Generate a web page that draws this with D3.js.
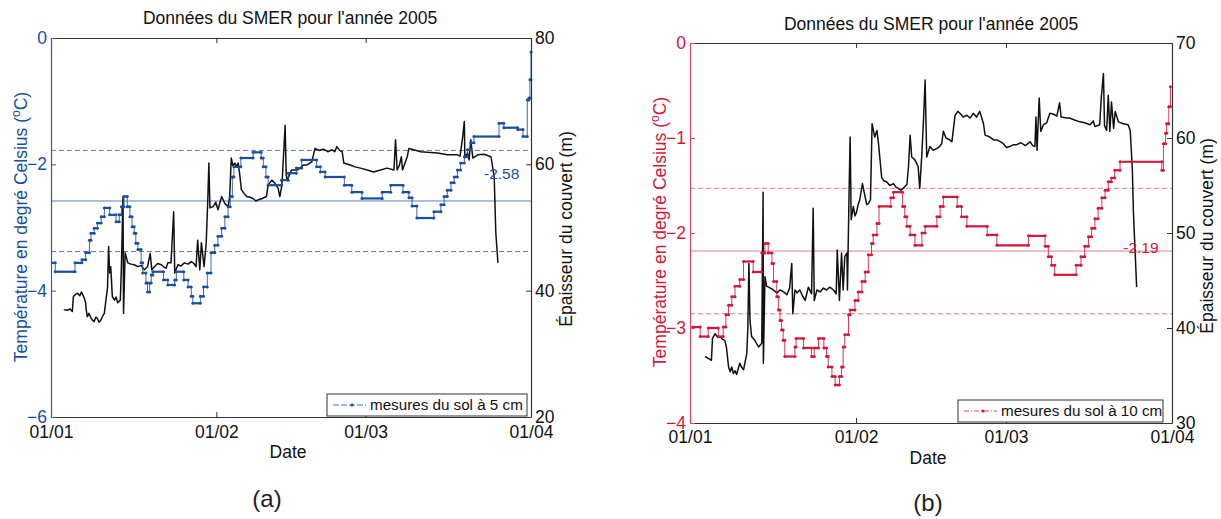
<!DOCTYPE html>
<html>
<head>
<meta charset="utf-8">
<script src="https://cdn.jsdelivr.net/npm/d3@7"></script>
<style>
  body { margin: 0; background: #fff; }
  text { font-family: "Liberation Sans", Arial, Helvetica, sans-serif; }
</style>
</head>
<body>
<svg id="fig" width="1221" height="519"></svg>
<script>
// ---- data: days counted from 1 January 2005 ----
const dateTicks = ["01/01", "01/02", "01/03", "01/04"];
const tempTicksA = [0, -2, -4, -6];
const snowTicksA = [20, 40, 60, 80];
const tempTicksB = [0, -1, -2, -3, -4];
const snowTicksB = [30, 40, 50, 60, 70];

// soil temperature at 5 cm, [day, °C] (hourly readings, step changes)
const soilTempA = [
  [0, -3.56], [0.8, -3.70], [4.5, -3.56], [5.8, -3.51], [6.5, -3.40], [7.2, -3.20], [7.5, -3.09],
  [8.1, -3.01], [8.7, -2.93], [9.4, -2.83], [10.0, -2.69], [11.0, -2.80], [12.2, -2.91], [12.8, -2.80],
  [13.2, -2.67], [13.7, -2.51], [14.3, -2.67], [14.8, -2.83], [15.2, -2.99], [15.6, -3.09], [15.9, -3.25],
  [16.3, -3.35], [16.9, -3.56], [17.2, -3.72], [17.8, -3.88], [18.1, -4.02], [18.5, -3.88], [18.8, -3.75],
  [19.1, -3.70], [21.1, -3.83], [21.9, -3.91], [23.2, -3.83], [23.5, -3.70], [24.9, -3.83], [25.7, -3.94],
  [26.3, -4.09], [26.6, -4.20], [28.0, -4.09], [28.6, -3.94], [29.3, -3.72], [30.0, -3.40], [30.7, -3.28],
  [31.3, -3.14], [32.0, -3.01], [32.6, -2.83], [33.2, -2.67], [33.6, -2.51], [34.0, -2.20], [34.3, -2.04],
  [35.6, -1.90], [37.9, -1.81], [39.4, -1.90], [39.8, -2.04], [40.3, -2.20], [40.7, -2.33], [43.2, -2.25],
  [44.5, -2.14], [46.0, -2.06], [47.0, -1.93], [49.8, -2.04], [50.5, -2.12], [51.4, -2.20], [55.0, -2.33],
  [56.4, -2.44], [58.3, -2.54], [62.1, -2.44], [63.7, -2.33], [66.0, -2.44], [67.1, -2.53], [67.7, -2.66],
  [68.6, -2.85], [71.8, -2.75], [73.1, -2.64], [73.7, -2.51], [74.3, -2.41], [75.0, -2.29], [75.6, -2.20],
  [76.2, -2.09], [76.8, -1.98], [77.5, -1.88], [78.1, -1.77], [78.7, -1.66], [79.3, -1.56], [84.0, -1.35],
  [84.9, -1.42], [87.5, -1.45], [88.5, -1.56], [89.3, -0.98], [89.6, -0.95], [89.8, -0.66], [90.0, -0.22]
];

// snow cover thickness, [day, m]
const snowDepthA = [
  [2.4, 37.0], [3.0, 36.9], [3.6, 37.1], [4.0, 36.7], [4.2, 39.1], [4.6, 39.4], [5.0, 39.6], [5.4, 39.2],
  [5.7, 39.8], [6.2, 38.9], [6.5, 38.1], [6.6, 37.0], [6.8, 35.9], [7.1, 36.4], [7.5, 35.7], [7.8, 35.3],
  [8.1, 35.1], [8.4, 35.8], [8.7, 35.6], [9.0, 35.0], [9.4, 35.4], [9.7, 36.0], [10.0, 36.4], [10.3, 38.5],
  [10.6, 40.5], [10.8, 47.0], [11.0, 42.8], [11.2, 43.8], [11.5, 39.1], [11.9, 38.5], [12.2, 39.0],
  [12.5, 38.1], [13.0, 38.5], [13.2, 43.8], [13.5, 54.9], [13.6, 36.4], [13.9, 46.0], [14.4, 44.4],
  [15.0, 44.2], [15.6, 44.1], [16.3, 43.8], [16.9, 44.0], [17.5, 43.3], [18.1, 43.8], [18.6, 45.9],
  [18.9, 43.3], [19.4, 43.8], [20.0, 44.3], [20.7, 44.1], [21.2, 43.7], [21.6, 43.6], [21.9, 44.4],
  [22.5, 44.4], [23.0, 52.5], [23.2, 42.8], [23.8, 44.1], [24.4, 43.9], [25.0, 44.4], [25.7, 44.2],
  [26.3, 44.6], [26.8, 44.3], [27.2, 43.8], [27.5, 48.0], [27.9, 43.3], [28.2, 47.6], [28.7, 43.8],
  [29.1, 47.5], [29.4, 54.4], [29.6, 60.2], [29.8, 53.1], [30.4, 53.3], [30.9, 54.0], [31.3, 52.8],
  [32.0, 54.9], [32.6, 53.8], [33.2, 53.3], [33.5, 54.9], [33.8, 61.0], [34.1, 59.8], [34.5, 60.2],
  [34.8, 59.6], [35.1, 60.2], [35.4, 58.3], [35.7, 56.0], [36.2, 55.4], [36.7, 54.9], [37.3, 54.8],
  [37.9, 54.6], [38.4, 54.2], [38.9, 54.4], [39.6, 54.6], [40.4, 54.9], [40.7, 56.7], [41.4, 57.5],
  [42.0, 57.0], [42.6, 56.2], [42.9, 54.9], [43.3, 56.7], [43.9, 66.2], [44.1, 58.3], [44.3, 57.5],
  [45.1, 59.1], [46.1, 59.1], [46.7, 59.4], [47.3, 59.9], [48.0, 59.9], [48.9, 60.4], [49.5, 62.5],
  [50.3, 62.2], [51.1, 62.4], [51.9, 62.0], [52.7, 62.3], [53.2, 62.0], [53.6, 62.8], [54.1, 62.2],
  [54.6, 62.0], [54.9, 60.2], [56.1, 59.9], [57.0, 59.6], [58.0, 59.4], [59.3, 59.1], [60.5, 58.8],
  [61.8, 59.1], [63.0, 59.4], [64.3, 59.1], [64.6, 63.9], [64.9, 59.1], [65.3, 59.8], [65.7, 61.2],
  [65.9, 59.1], [66.8, 61.2], [67.1, 62.5], [68.0, 62.3], [69.3, 62.0], [70.6, 61.9], [72.5, 61.8],
  [74.3, 61.5], [76.2, 61.5], [76.7, 61.3], [77.2, 64.4], [77.5, 66.8], [77.6, 61.0], [78.1, 61.8],
  [78.4, 60.7], [78.7, 63.9], [79.1, 61.0], [80.0, 61.5], [81.2, 61.6], [82.5, 61.2], [83.1, 58.0],
  [83.4, 49.2], [83.8, 44.4]
];

// soil temperature at 10 cm, [day, °C]
const soilTempB = [
  [0.5, -2.99], [1.9, -3.09], [3.4, -3.00], [5.3, -3.09], [6.2, -2.99], [6.7, -2.86], [7.2, -2.76],
  [7.8, -2.67], [8.4, -2.56], [9.3, -2.49], [10.0, -2.30], [11.8, -2.41], [13.4, -2.21], [14.0, -2.11],
  [14.6, -2.21], [15.3, -2.32], [15.6, -2.51], [16.2, -2.67], [16.5, -2.81], [16.8, -2.92], [17.1, -3.02],
  [17.4, -3.13], [17.7, -3.30], [19.6, -3.20], [19.8, -3.11], [21.2, -3.21], [22.7, -3.30], [23.2, -3.21],
  [24.0, -3.11], [25.0, -3.21], [25.5, -3.30], [25.8, -3.41], [26.5, -3.51], [27.1, -3.60], [27.9, -3.51],
  [28.3, -3.41], [28.6, -3.20], [28.9, -3.07], [29.6, -2.86], [29.9, -2.81], [30.8, -2.71], [31.4, -2.62],
  [32.1, -2.51], [32.7, -2.41], [33.3, -2.23], [33.9, -2.11], [34.2, -2.02], [34.9, -1.90], [35.3, -1.72],
  [37.5, -1.63], [38.0, -1.57], [39.7, -1.72], [40.1, -1.83], [40.5, -1.93], [41.1, -2.02], [42.0, -2.13],
  [43.3, -2.00], [43.9, -1.93], [46.1, -1.83], [46.7, -1.72], [47.3, -1.62], [49.9, -1.72], [50.7, -1.83],
  [51.7, -1.93], [55.5, -2.02], [57.3, -2.13], [63.2, -2.03], [66.3, -2.14], [66.9, -2.25], [67.5, -2.34],
  [68.1, -2.44], [72.1, -2.34], [73.0, -2.25], [73.7, -2.14], [74.4, -2.04], [75.0, -1.95], [75.6, -1.85],
  [76.2, -1.74], [76.9, -1.63], [77.5, -1.55], [78.1, -1.46], [78.7, -1.42], [79.3, -1.34], [80.3, -1.25],
  [88.1, -1.34], [88.4, -1.06], [88.8, -0.95], [89.0, -0.85], [89.4, -0.67], [89.7, -0.46]
];

const snowDepthB = [
  [2.8, 37.0], [3.4, 36.8], [4.0, 36.6], [4.2, 38.9], [4.7, 39.4], [5.2, 39.0], [5.6, 39.1], [6.1, 38.8],
  [6.5, 38.7], [6.8, 38.0], [7.2, 35.9], [7.5, 35.4], [7.8, 35.9], [8.1, 35.2], [8.4, 35.5], [8.7, 35.1],
  [9.3, 36.3], [9.6, 35.9], [10.0, 35.6], [10.6, 37.3], [10.8, 40.0], [11.0, 46.8], [11.2, 40.8],
  [11.5, 39.1], [12.1, 38.7], [12.8, 38.0], [13.4, 38.4], [13.65, 54.3], [13.7, 36.3], [14.0, 45.4],
  [14.3, 44.4], [15.0, 44.2], [15.6, 44.0], [16.2, 43.7], [16.8, 44.0], [17.5, 43.8], [18.1, 43.5],
  [18.6, 44.2], [19.0, 46.8], [19.2, 41.5], [19.6, 44.0], [20.0, 43.7], [20.5, 44.0], [21.0, 43.4],
  [21.5, 42.9], [22.1, 44.3], [22.7, 43.6], [23.0, 52.6], [23.2, 42.9], [23.7, 44.0], [24.3, 43.8],
  [24.9, 44.2], [25.5, 44.0], [26.1, 44.3], [26.8, 44.0], [27.3, 43.6], [27.5, 48.2], [27.9, 42.9],
  [28.3, 47.9], [28.6, 44.0], [28.9, 47.5], [29.3, 47.9], [29.4, 44.0], [29.7, 54.2], [29.9, 60.1],
  [30.1, 51.4], [30.5, 52.8], [30.8, 51.8], [31.1, 52.2], [31.4, 53.0], [31.7, 53.5], [32.2, 55.2],
  [32.7, 53.8], [33.0, 53.0], [33.3, 53.1], [33.7, 53.5], [34.0, 61.5], [34.5, 60.1], [34.9, 60.8],
  [35.2, 59.4], [35.8, 55.8], [36.2, 55.5], [36.7, 55.4], [37.3, 55.0], [38.0, 55.2], [38.5, 54.8],
  [38.9, 54.7], [39.4, 54.5], [39.8, 54.7], [40.5, 55.1], [40.8, 57.0], [41.1, 60.3], [41.4, 58.0],
  [42.0, 57.7], [42.6, 57.0], [42.9, 54.7], [43.3, 58.4], [43.6, 61.9], [43.9, 66.1], [44.2, 58.0],
  [44.8, 59.1], [45.4, 58.7], [46.1, 58.9], [46.6, 59.1], [47.0, 59.4], [47.3, 60.7], [47.8, 60.0],
  [48.5, 59.8], [48.9, 59.6], [49.5, 62.4], [50.0, 62.8], [50.4, 62.6], [51.0, 62.2], [51.7, 62.4],
  [52.3, 62.1], [52.9, 62.6], [53.5, 62.2], [54.1, 62.8], [54.8, 61.5], [55.1, 60.3], [56.0, 60.1],
  [56.7, 59.8], [57.3, 59.8], [58.0, 59.6], [58.5, 59.4], [59.1, 59.0], [59.7, 59.1], [60.4, 59.3],
  [61.0, 59.3], [61.8, 59.5], [62.6, 59.2], [63.5, 59.6], [64.0, 59.2], [64.4, 59.1], [64.6, 62.2],
  [64.8, 58.7], [65.2, 64.2], [65.5, 60.7], [66.0, 61.4], [66.6, 61.6], [67.2, 62.6], [67.9, 62.5],
  [68.5, 62.3], [69.0, 63.7], [69.3, 62.2], [70.3, 62.1], [70.9, 62.1], [71.8, 61.9], [72.8, 61.7],
  [73.7, 61.6], [74.7, 61.4], [75.3, 61.8], [75.6, 61.2], [76.5, 61.4], [76.8, 64.3], [77.2, 66.8],
  [77.4, 61.3], [77.8, 60.8], [78.1, 64.5], [78.4, 60.7], [78.7, 63.8], [79.1, 61.0], [79.4, 62.8],
  [80.0, 61.7], [80.9, 61.5], [81.8, 61.4], [82.2, 60.8], [82.6, 56.6], [82.8, 52.1], [83.1, 48.2],
  [83.4, 44.3]
];

// mean and standard deviation of each temperature series
const meanA = -2.58, stdA = 0.80;
const meanB = -2.19, stdB = 0.66;

const titleText = "Données du SMER pour l'année 2005";
const legendA = "mesures du sol à 5 cm";
const legendB = "mesures du sol à 10 cm";

// ---- drawing ----
const svg = d3.select("#fig");
const DAY = 864e5;
const t0 = Date.UTC(2005, 0, 1);
const dayToDate = d => new Date(t0 + d * DAY);
const parseTick = d3.utcParse("%d/%m/%Y");
const tickDates = dateTicks.map(s => parseTick(s + "/2005"));
const FONT = 17.5;

function drawPanel(p) {
  const g = svg.append("g");
  const x = d3.scaleUtc().domain([dayToDate(0), dayToDate(90)]).range([p.left, p.right]);
  const yT = d3.scaleLinear().domain(p.tempDomain).range([p.bottom, p.top]);
  const yS = d3.scaleLinear().domain(p.snowDomain).range([p.bottom, p.top]);

  const clipId = "clip" + p.id;
  g.append("clipPath").attr("id", clipId).append("rect")
    .attr("x", p.left).attr("y", p.top - 6).attr("width", p.right - p.left + 2).attr("height", p.bottom - p.top + 6);

  const plot = g.append("g").attr("clip-path", `url(#${clipId})`);

  // reference lines: mean (solid) and mean ± one standard deviation (dashed)
  plot.append("line").attr("x1", p.left).attr("x2", p.right)
    .attr("y1", yT(p.mean)).attr("y2", yT(p.mean))
    .attr("stroke", p.refColor).attr("stroke-width", 1);
  [p.mean + p.std, p.mean - p.std].forEach(v => {
    plot.append("line").attr("x1", p.left).attr("x2", p.right)
      .attr("y1", yT(v)).attr("y2", yT(v))
      .attr("stroke", p.refColor).attr("stroke-width", 1).attr("stroke-dasharray", "5,3");
  });

  // snow thickness (right axis)
  plot.append("path").datum(p.snow)
    .attr("fill", "none").attr("stroke", "#111").attr("stroke-width", 1.5)
    .attr("stroke-linejoin", "round")
    .attr("d", d3.line().x(d => x(dayToDate(d[0]))).y(d => yS(d[1])));

  // soil temperature as a stepped series with sample markers
  const temp = p.temp;
  plot.append("path").datum(temp)
    .attr("fill", "none").attr("stroke", p.color).attr("stroke-width", 1).attr("opacity", 0.85)
    .attr("d", d3.line().curve(d3.curveStepAfter).x(d => x(dayToDate(d[0]))).y(d => yT(d[1])));
  const runs = temp.slice(0, -1).map((d, i) => ({ a: d[0], b: temp[i + 1][0], v: d[1] }));
  plot.selectAll(null).data(runs).join("line")
    .attr("x1", d => x(dayToDate(d.a))).attr("x2", d => x(dayToDate(d.b)))
    .attr("y1", d => yT(d.v)).attr("y2", d => yT(d.v))
    .attr("stroke", p.color).attr("stroke-width", 2.2);
  const pts = temp.concat(runs.map(r => [r.b, r.v]));
  plot.selectAll(null).data(pts).join("circle")
    .attr("cx", d => x(dayToDate(d[0]))).attr("cy", d => yT(d[1]))
    .attr("r", 1.5).attr("fill", p.color);

  // mean value label
  g.append("text").attr("x", x(dayToDate(p.labelDay))).attr("y", yT(p.labelAt))
    .attr("text-anchor", "middle").attr("dy", "0.35em")
    .attr("font-size", 15.5).attr("fill", p.color).text(p.mean.toFixed(2));

  // axes
  const bottom = g.append("g").attr("transform", `translate(0,${p.bottom})`)
    .call(d3.axisBottom(x).tickValues(tickDates).tickFormat(d3.utcFormat("%d/%m"))
      .tickSizeInner(-5).tickSizeOuter(0).tickPadding(p.xPad));
  const top = g.append("g").attr("transform", `translate(0,${p.top})`)
    .call(d3.axisTop(x).tickValues(tickDates).tickFormat("")
      .tickSizeInner(-5).tickSizeOuter(0));
  const left = g.append("g").attr("transform", `translate(${p.left},0)`)
    .call(d3.axisLeft(yT).tickValues(p.tempTicks).tickFormat(d3.format("d"))
      .tickSizeInner(-5).tickSizeOuter(0).tickPadding(4));
  const right = g.append("g").attr("transform", `translate(${p.right},0)`)
    .call(d3.axisRight(yS).tickValues(p.snowTicks).tickFormat(d3.format("d"))
      .tickSizeInner(-5).tickSizeOuter(0).tickPadding(4));

  [bottom, top, right].forEach(a => {
    a.select(".domain").attr("stroke", "#333").attr("stroke-width", 1.2);
    a.selectAll(".tick line").attr("stroke", "#333");
    a.selectAll("text").attr("fill", "#111").attr("font-size", FONT)
      .attr("font-family", '"Liberation Sans", Arial, sans-serif');
  });
  left.select(".domain").attr("stroke", p.axisColor).attr("stroke-width", 1.2);
  left.selectAll(".tick line").attr("stroke", p.axisColor);
  left.selectAll("text").attr("fill", p.color).attr("font-size", FONT)
    .attr("font-family", '"Liberation Sans", Arial, sans-serif');

  // titles and axis labels
  g.append("text").attr("x", p.titleX).attr("y", p.titleY).attr("text-anchor", "middle")
    .attr("font-size", FONT).attr("fill", "#111").text(titleText);
  g.append("text").attr("x", p.dateX).attr("y", p.dateY).attr("text-anchor", "middle")
    .attr("font-size", FONT).attr("fill", "#111").text("Date");

  const yl = g.append("text").attr("transform", `translate(${p.yLabelX},${p.yLabelY}) rotate(-90)`)
    .attr("text-anchor", "middle").attr("font-size", FONT).attr("fill", p.color);
  yl.append("tspan").text("Température en degré Celsius (");
  yl.append("tspan").attr("font-size", 12).attr("dy", -7).text("o");
  yl.append("tspan").attr("dy", 7).text("C)");

  g.append("text").attr("transform", `translate(${p.rLabelX},${p.rLabelY}) rotate(-90)`)
    .attr("text-anchor", "middle").attr("font-size", FONT).attr("fill", "#111")
    .text("Épaisseur du couvert (m)");

  // legend
  const lg = g.append("g");
  lg.append("rect").attr("x", p.legX).attr("y", p.legY).attr("width", p.legW).attr("height", p.legH)
    .attr("fill", "#fff").attr("stroke", "#333").attr("stroke-width", 1);
  const ly = p.legY + p.legH / 2;
  lg.append("line").attr("x1", p.legX + 6).attr("x2", p.legX + 39).attr("y1", ly).attr("y2", ly)
    .attr("stroke", p.color).attr("stroke-width", 1).attr("stroke-dasharray", p.legDash).attr("opacity", 0.8);
  lg.append("circle").attr("cx", p.legX + 25).attr("cy", ly).attr("r", 1.6).attr("fill", p.color);
  lg.append("text").attr("x", p.legX + 43).attr("y", ly).attr("dy", "0.35em")
    .attr("font-size", 15.2).attr("fill", "#111").text(p.legText);

  // panel caption
  svg.append("text").attr("x", p.capX).attr("y", p.capY).attr("text-anchor", "middle")
    .attr("font-family", '"Liberation Serif", "DejaVu Serif", serif')
    .attr("font-size", 24).attr("fill", "#222").text(p.caption);
}

drawPanel({
  id: "A", left: 51, right: 531, top: 38, bottom: 417,
  tempDomain: [-6, 0], snowDomain: [20, 80],
  tempTicks: tempTicksA, snowTicks: snowTicksA,
  temp: soilTempA, snow: snowDepthA,
  mean: meanA, std: stdA, labelDay: 84.5, labelAt: -2.14,
  color: "#1b4f9e", axisColor: "#2f5fab", refColor: "#5a7fc0",
  xPad: 9, titleX: 290, titleY: 24, dateX: 288, dateY: 458,
  yLabelX: 27, yLabelY: 227, rLabelX: 572, rLabelY: 229,
  legX: 327, legY: 394, legW: 200, legH: 22, legText: legendA, legDash: "6,2",
  caption: "(a)", capX: 267, capY: 507
});

drawPanel({
  id: "B", left: 690, right: 1172, top: 43, bottom: 423,
  tempDomain: [-4, 0], snowDomain: [30, 70],
  tempTicks: tempTicksB, snowTicks: snowTicksB,
  temp: soilTempB, snow: snowDepthB,
  mean: meanB, std: stdB, labelDay: 84.2, labelAt: -2.15,
  color: "#d0183c", axisColor: "#d44a62", refColor: "#d98590",
  xPad: 8, titleX: 931, titleY: 30, dateX: 928, dateY: 464,
  yLabelX: 666, yLabelY: 232, rLabelX: 1213, rLabelY: 236,
  legX: 958, legY: 400, legW: 205, legH: 22, legText: legendB, legDash: "5,2,1,2",
  caption: "(b)", capX: 928, capY: 511
});
</script>
</body>
</html>
